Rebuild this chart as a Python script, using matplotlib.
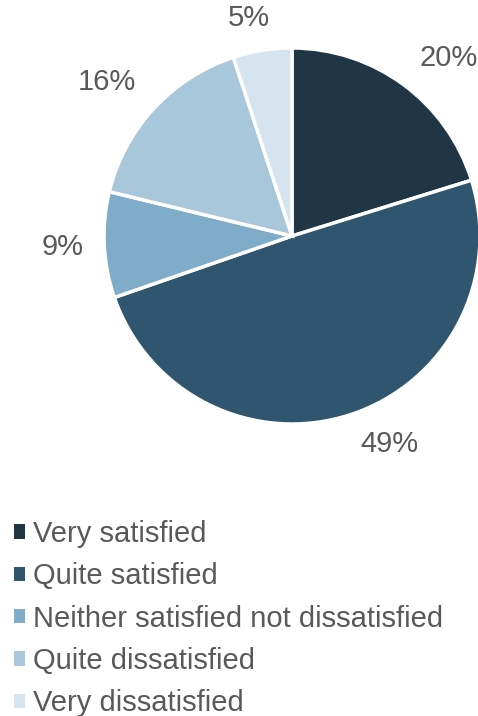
import numpy as np
import matplotlib.pyplot as plt
from matplotlib.patches import Patch

plt.rcParams['font.family'] = ['Liberation Sans', 'DejaVu Sans']

categories = ['Very satisfied', 'Quite satisfied', 'Neither satisfied not dissatisfied',
              'Quite dissatisfied', 'Very dissatisfied']
shares = [20, 49, 9, 16, 5]
colors = ['#203645', '#2f566e', '#7fadc9', '#a9c7da', '#d5e4ee']

# label placement tweaks (angle offset in degrees, radial distance)
label_shift = [-5, 7, 0, 3, 2]
label_dist = [1.26, 1.22, 1.22, 1.28, 1.18]
text_color = '#595959'

fig = plt.figure(figsize=(4.78, 7.16), dpi=100)
ax = fig.add_axes([104 / 478, 1 - 424 / 716, 376 / 478, 376 / 716])

wedges, _ = ax.pie(shares, colors=colors, startangle=90, counterclock=False,
                   wedgeprops=dict(edgecolor='white', linewidth=2.5))
ax.set_xlim(-1, 1)
ax.set_ylim(-1, 1)
ax.set_aspect('equal')
ax.axis('off')

for w, val, shift, dist in zip(wedges, shares, label_shift, label_dist):
    ang = np.deg2rad((w.theta1 + w.theta2) / 2 + shift)
    ax.text(dist * np.cos(ang), dist * np.sin(ang), f'{val}%',
            ha='center', va='center', fontsize=21, color=text_color, clip_on=False)

handles = [Patch(facecolor=c, edgecolor='none') for c in colors]
fig.legend(handles, categories, loc='upper left', bbox_to_anchor=(14 / 478, 1 - 520 / 716),
           frameon=False, fontsize=21, labelcolor=text_color,
           handlelength=0.38, handleheight=0.38, handletextpad=0.27,
           labelspacing=0.49, borderpad=0, borderaxespad=0)

fig.savefig('out.png', dpi=100)
